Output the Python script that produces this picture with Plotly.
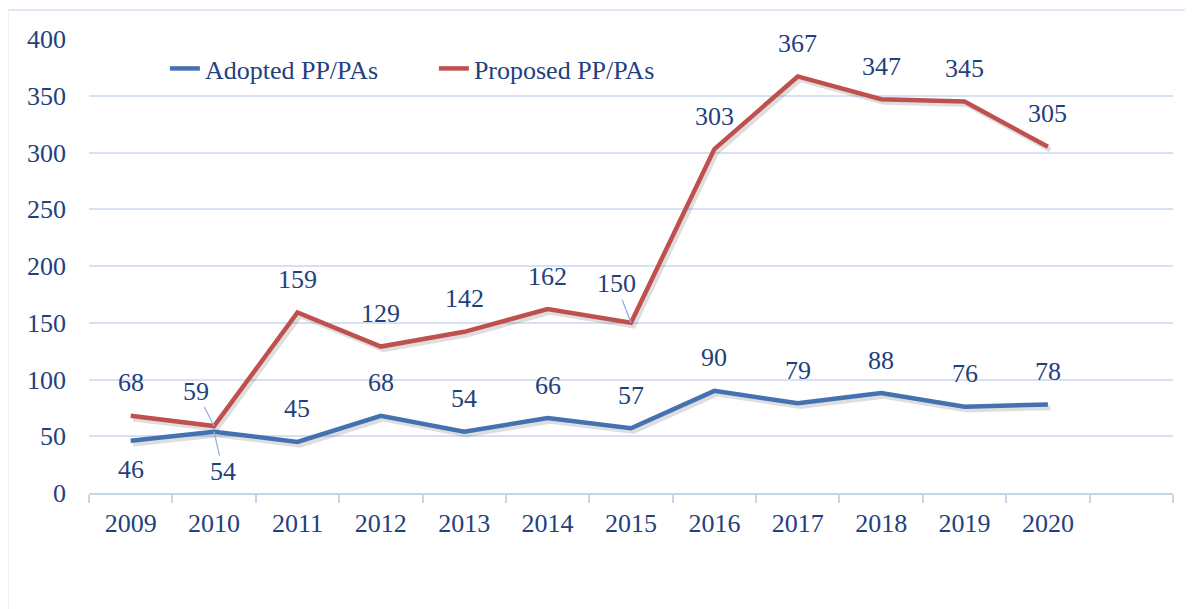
import plotly.graph_objects as go

years = ["2009", "2010", "2011", "2012", "2013", "2014", "2015", "2016", "2017", "2018", "2019", "2020"]
adopted = [46, 54, 45, 68, 54, 66, 57, 90, 79, 88, 76, 78]
proposed = [68, 59, 159, 129, 142, 162, 150, 303, 367, 347, 345, 305]
y_ticks = [0, 50, 100, 150, 200, 250, 300, 350, 400]

BLUE = "#4472B0"
RED = "#C0504D"
TXT = "#1F417E"
GRID = "#D6E2F3"
FONT = "Liberation Serif"
FS = 26

xs = list(range(len(years)))

fig = go.Figure()

# subtle drop shadows
for vals in (adopted, proposed):
    fig.add_trace(go.Scatter(
        x=[v + 0.03 for v in xs], y=[v - 2.8 for v in vals], mode="lines",
        line=dict(color="rgba(0,0,0,0.13)", width=5), showlegend=False, hoverinfo="skip"))

fig.add_trace(go.Scatter(x=xs, y=adopted, mode="lines", name="Adopted PP/PAs",
                         line=dict(color=BLUE, width=4.5)))
fig.add_trace(go.Scatter(x=xs, y=proposed, mode="lines", name="Proposed PP/PAs",
                         line=dict(color=RED, width=4.5)))

annotations = []
below = {("a", 0), ("a", 1)}
leaders = {("p", 1): (-18, -35), ("a", 1): (9, 40), ("p", 6): (-15, -39)}
for key, vals in (("a", adopted), ("p", proposed)):
    for i, v in enumerate(vals):
        if (key, i) in leaders:
            ax, ay = leaders[(key, i)]
            annotations.append(dict(x=xs[i], y=v, text=str(v), showarrow=True, ax=ax, ay=ay,
                                    arrowhead=0, arrowwidth=1.3, arrowcolor="#8EB4E3", standoff=0,
                                    font=dict(family=FONT, size=FS, color=TXT)))
        else:
            annotations.append(dict(x=xs[i], y=v, text=str(v), showarrow=False,
                                    yshift=-29 if (key, i) in below else 33,
                                    font=dict(family=FONT, size=FS, color=TXT)))

fig.update_layout(
    width=1185, height=601,
    margin=dict(l=81, r=20, t=31, b=116),
    paper_bgcolor="white", plot_bgcolor="white",
    font=dict(family=FONT, size=FS, color=TXT),
    showlegend=True,
    legend=dict(orientation="h", x=0.07, y=0.935, xanchor="left", yanchor="middle",
                bgcolor="rgba(0,0,0,0)", font=dict(family=FONT, size=FS, color=TXT),
                traceorder="normal", entrywidth=224, entrywidthmode="pixels"),
    annotations=annotations,
    xaxis=dict(range=[-0.5, 12.5], tickmode="array", tickvals=xs, ticktext=years,
               showgrid=False, zeroline=False, showline=True, linecolor="#C5D5EC", linewidth=1.5,
               ticks="", ticklabelstandoff=6,
               minor=dict(tick0=-0.5, dtick=1, ticks="outside", ticklen=8, tickcolor="#C5D5EC",
                          tickwidth=1.5, showgrid=False),
               tickfont=dict(family=FONT, size=FS, color=TXT), fixedrange=True),
    yaxis=dict(range=[0, 400], tickmode="array", tickvals=y_ticks,
               showgrid=True, gridcolor=GRID, gridwidth=1.5, zeroline=False, showline=False,
               ticks="", ticklabelstandoff=22,
               tickfont=dict(family=FONT, size=FS, color=TXT), fixedrange=True),
    shapes=[
        dict(type="line", xref="paper", yref="paper", x0=-0.075, x1=1.02, y0=1.064, y1=1.064,
             line=dict(color="#D3E0F1", width=1.5)),
        dict(type="line", xref="paper", yref="paper", x0=-0.075, x1=-0.075, y0=1.064, y1=-0.26,
             line=dict(color="#D3E0F1", width=1.5)),
    ],
)

fig.write_html("out.html")
